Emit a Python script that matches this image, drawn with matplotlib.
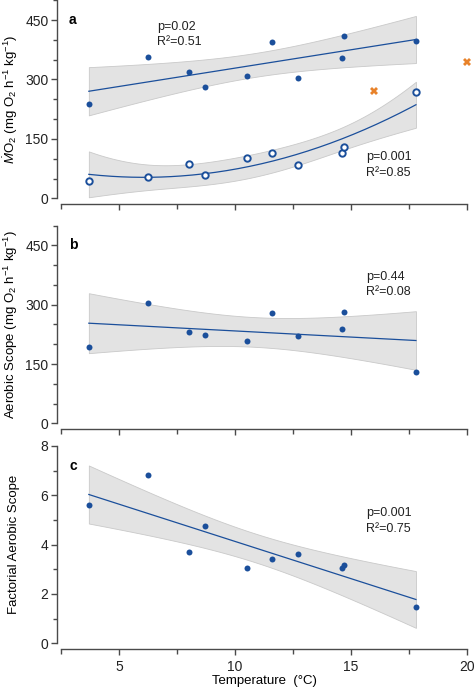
import numpy as np
import matplotlib
matplotlib.use('Agg')
import matplotlib.pyplot as plt
from matplotlib.ticker import MultipleLocator

plt.rcParams['font.family'] = ['Liberation Sans', 'DejaVu Sans']
plt.rcParams['mathtext.fontset'] = 'custom'
plt.rcParams['mathtext.rm'] = 'Liberation Sans'
plt.rcParams['mathtext.it'] = 'Liberation Sans:italic'
plt.rcParams['mathtext.bf'] = 'Liberation Sans:bold'

# ---- data ----
temp = [3.7, 6.25, 8.0, 8.7, 10.5, 11.6, 12.7, 14.6, 14.7, 17.8]
mo2_max = [238, 357, 319, 282, 309, 395, 305, 354, 410, 397]
mo2_rest = [44, 53, 87, 59, 102, 115, 84, 115, 129, 268]
excl_temp = [16.0, 20.0]
excl_mo2 = [272, 344]
scope = [194, 304, 232, 223, 207, 280, 221, 239, 281, 129]
fas = [5.61, 6.82, 3.71, 4.75, 3.05, 3.43, 3.63, 3.07, 3.16, 1.49]

blue = '#1b4f9b'
orange = '#e8822a'
band = '#e3e3e3'
spine_col = '#4a4a4a'


def fit_ci(x, y, deg, tval):
    # least squares polynomial fit with 95% confidence band of the mean
    x = np.asarray(x, float)
    y = np.asarray(y, float)
    X = np.vander(x, deg + 1)
    beta, res, rank, sv = np.linalg.lstsq(X, y, rcond=None)
    resid = y - X @ beta
    s2 = np.sum(resid ** 2) / (len(x) - deg - 1)
    cov = s2 * np.linalg.inv(X.T @ X)
    xs = np.linspace(x.min(), x.max(), 200)
    Xs = np.vander(xs, deg + 1)
    yh = Xs @ beta
    se = np.sqrt(np.einsum('ij,jk,ik->i', Xs, cov, Xs))
    return xs, yh, yh - tval * se, yh + tval * se


def style(ax, ymax, major, minor):
    ax.set_xlim(2.5, 20)
    ax.set_ylim(0, ymax)
    ax.spines['top'].set_visible(False)
    ax.spines['right'].set_visible(False)
    ax.spines['left'].set_position(('outward', 3))
    ax.spines['bottom'].set_position(('outward', 4))
    for s in ['left', 'bottom']:
        ax.spines[s].set_color(spine_col)
        ax.spines[s].set_linewidth(1.0)
    ax.xaxis.set_major_locator(MultipleLocator(5))
    ax.xaxis.set_minor_locator(MultipleLocator(2.5))
    ax.yaxis.set_major_locator(MultipleLocator(major))
    ax.yaxis.set_minor_locator(MultipleLocator(minor))
    ax.tick_params(which='both', color=spine_col, width=1.0, labelsize=10,
                   labelcolor='#222222')
    ax.tick_params(axis='y', which='major', length=4.5, pad=1.5)
    ax.tick_params(axis='y', which='minor', length=3)
    ax.tick_params(axis='x', which='major', length=4.5)
    ax.tick_params(axis='x', which='minor', length=3.5)
    ax.patch.set_visible(False)


def draw_fit(ax, x, y, deg, tval):
    xs, yh, lo, hi = fit_ci(x, y, deg, tval)
    ax.fill_between(xs, lo, hi, facecolor=band, edgecolor='#c9c9c9',
                    linewidth=0.6, zorder=1)
    ax.plot(xs, yh, color=blue, lw=0.9, zorder=2)


def stats(ax, x, y, txt):
    ax.text(x, y, txt, fontsize=9, va='center', linespacing=1.4,
            color='#222222')


fig = plt.figure(figsize=(4.75, 6.9), dpi=100)
L, W = 0.1284, 0.8547
ax1 = fig.add_axes([L, 0.7126, W, 0.2870])
ax2 = fig.add_axes([L, 0.3865, W, 0.2865])
ax3 = fig.add_axes([L, 0.0677, W, 0.2860])

# ---- a ----
style(ax1, 500, 150, 50)
draw_fit(ax1, temp, mo2_max, 1, 2.306)
draw_fit(ax1, temp, mo2_rest, 2, 2.365)
ax1.plot(temp, mo2_max, 'o', color=blue, ms=4.3, mew=0, zorder=3)
ax1.plot(temp, mo2_rest, 'o', mfc='white', mec=blue, ms=4.6, mew=1.4, zorder=3)
ax1.plot(excl_temp, excl_mo2, 'X', color=orange, ms=5.5, mew=0, zorder=3,
         clip_on=False)
ax1.tick_params(axis='x', labelbottom=False)
stats(ax1, 6.64, 414, 'p=0.02\nR²=0.51')
stats(ax1, 15.65, 84, 'p=0.001\nR²=0.85')
ax1.text(0.02, 0.9, 'a', transform=ax1.transAxes, fontsize=10, fontweight='bold',
         va='center')
ax1.set_ylabel(r'$\dot{M}$O$_2$ (mg O$_2$ h$^{-1}$ kg$^{-1}$)', fontsize=9.5)
ax1.yaxis.set_label_coords(-0.10, 0.5)

# ---- b ----
style(ax2, 500, 150, 50)
draw_fit(ax2, temp, scope, 1, 2.306)
ax2.plot(temp, scope, 'o', color=blue, ms=4.3, mew=0, zorder=3)
ax2.tick_params(axis='x', labelbottom=False)
stats(ax2, 15.65, 351, 'p=0.44\nR²=0.08')
ax2.text(0.02, 0.9, 'b', transform=ax2.transAxes, fontsize=10, fontweight='bold',
         va='center')
ax2.set_ylabel(r'Aerobic Scope (mg O$_2$ h$^{-1}$ kg$^{-1}$)', fontsize=9.5)
ax2.yaxis.set_label_coords(-0.10, 0.5)

# ---- c ----
style(ax3, 8, 2, 1)
draw_fit(ax3, temp, fas, 1, 2.306)
ax3.plot(temp, fas, 'o', color=blue, ms=4.3, mew=0, zorder=3)
stats(ax3, 15.65, 4.95, 'p=0.001\nR²=0.75')
ax3.text(0.02, 0.9, 'c', transform=ax3.transAxes, fontsize=10, fontweight='bold',
         va='center')
ax3.set_ylabel('Factorial Aerobic Scope', fontsize=9.5)
ax3.yaxis.set_label_coords(-0.10, 0.5)
ax3.set_xlabel('Temperature  (°C)', fontsize=9.5, labelpad=1)

fig.savefig('out.png', dpi=100)
